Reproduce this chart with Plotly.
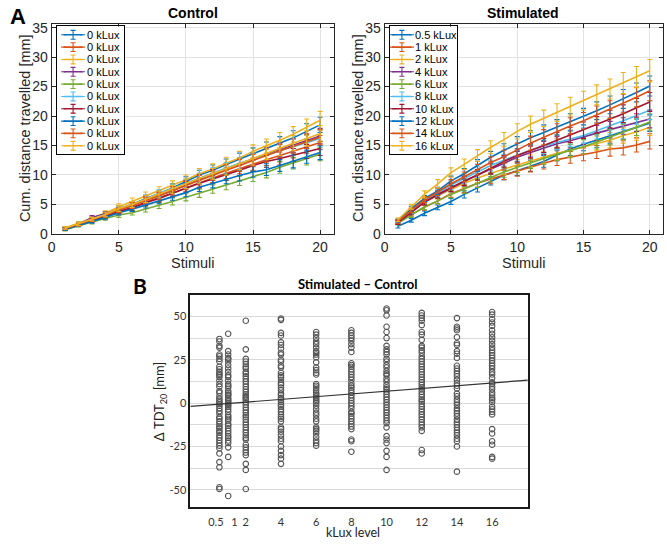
import plotly.graph_objects as go

W, H = 667, 550

# ---------------- data ----------------
stimuli = list(range(1, 21))

control_labels = ["0 kLux"] * 10
control_means = [
    [0.9, 1.7, 2.5, 3.3, 4.3, 5.0, 6.0, 6.8, 7.8, 8.9, 10.0, 10.8, 11.8, 12.7, 13.6, 14.5, 15.4, 16.3, 17.4, 18.5],
    [0.8, 1.5, 2.3, 3.0, 3.8, 4.5, 5.4, 6.1, 6.9, 7.8, 8.7, 9.5, 10.3, 11.1, 11.8, 12.6, 13.3, 14.0, 14.8, 15.5],
    [1.0, 1.8, 2.6, 3.5, 4.6, 5.5, 6.5, 7.3, 8.2, 9.2, 10.2, 11.0, 12.0, 12.9, 14.0, 14.9, 15.9, 16.9, 18.1, 19.3],
    [0.9, 1.6, 2.8, 3.4, 4.1, 4.8, 5.8, 6.5, 7.3, 8.3, 9.3, 10.0, 11.0, 11.9, 12.7, 13.5, 14.3, 15.0, 15.8, 16.6],
    [0.7, 1.4, 2.0, 2.6, 3.2, 3.6, 4.2, 4.8, 5.5, 6.2, 6.9, 7.6, 8.3, 9.0, 9.8, 10.4, 11.3, 12.0, 12.8, 13.5],
    [0.9, 1.7, 2.4, 3.2, 4.1, 4.9, 5.9, 6.9, 7.7, 8.6, 9.5, 10.4, 11.2, 12.0, 12.7, 13.4, 14.1, 14.9, 15.6, 16.2],
    [0.8, 1.5, 2.3, 3.0, 3.8, 4.4, 5.3, 6.0, 6.9, 7.8, 8.6, 9.3, 10.0, 10.8, 11.6, 12.3, 12.8, 13.4, 14.0, 14.5],
    [0.8, 1.4, 2.1, 2.8, 3.6, 4.2, 4.9, 5.6, 6.3, 7.0, 7.9, 8.6, 9.3, 9.9, 10.5, 10.9, 11.6, 12.3, 13.1, 13.8],
    [0.9, 1.6, 2.4, 3.2, 4.0, 4.8, 5.7, 6.4, 7.3, 8.2, 9.1, 9.9, 10.8, 11.6, 12.5, 13.3, 14.1, 14.9, 15.7, 16.4],
    [1.0, 1.7, 2.5, 3.3, 4.3, 5.0, 5.9, 6.7, 7.6, 8.5, 9.4, 10.2, 11.0, 11.9, 12.8, 13.7, 14.5, 15.4, 16.2, 17.0],
]
control_errors = [
    [0.2, 0.3, 0.3, 0.4, 0.5, 0.5, 0.6, 0.6, 0.7, 0.8, 0.8, 0.9, 0.9, 1.0, 1.0, 1.1, 1.1, 1.2, 1.3, 1.3],
    [0.2, 0.2, 0.3, 0.4, 0.4, 0.5, 0.5, 0.6, 0.7, 0.7, 0.8, 0.8, 0.9, 0.9, 1.0, 1.0, 1.1, 1.1, 1.2, 1.2],
    [0.2, 0.3, 0.3, 0.4, 0.5, 0.6, 0.6, 0.7, 0.8, 0.8, 0.9, 0.9, 1.0, 1.1, 1.1, 1.2, 1.3, 1.3, 1.4, 1.5],
    [0.2, 0.3, 0.3, 0.4, 0.4, 0.5, 0.6, 0.6, 0.7, 0.7, 0.8, 0.9, 0.9, 1.0, 1.0, 1.1, 1.1, 1.2, 1.2, 1.3],
    [0.2, 0.2, 0.3, 0.3, 0.4, 0.4, 0.5, 0.5, 0.6, 0.6, 0.7, 0.7, 0.8, 0.8, 0.9, 0.9, 1.0, 1.0, 1.1, 1.1],
    [0.2, 0.3, 0.3, 0.4, 0.4, 0.5, 0.6, 0.6, 0.7, 0.7, 0.8, 0.8, 0.9, 1.0, 1.0, 1.1, 1.1, 1.2, 1.2, 1.3],
    [0.2, 0.2, 0.3, 0.3, 0.4, 0.5, 0.5, 0.6, 0.6, 0.7, 0.8, 0.8, 0.9, 0.9, 1.0, 1.0, 1.1, 1.1, 1.2, 1.2],
    [0.2, 0.2, 0.3, 0.3, 0.4, 0.4, 0.5, 0.5, 0.6, 0.7, 0.7, 0.8, 0.8, 0.9, 0.9, 1.0, 1.0, 1.1, 1.1, 1.2],
    [0.2, 0.3, 0.3, 0.4, 0.4, 0.5, 0.5, 0.6, 0.7, 0.7, 0.8, 0.8, 0.9, 1.0, 1.0, 1.1, 1.1, 1.2, 1.2, 1.3],
    [0.2, 0.3, 0.3, 0.4, 0.5, 0.5, 0.6, 0.6, 0.7, 0.8, 0.8, 0.9, 1.0, 1.0, 1.1, 1.1, 1.2, 1.3, 1.3, 1.4],
]

stim_labels = ["0.5 kLux", "1 kLux", "2 kLux", "4 kLux", "6 kLux",
               "8 kLux", "10 kLux", "12 kLux", "14 kLux", "16 kLux"]
stim_means = [
    [1.3, 2.3, 3.5, 4.5, 5.5, 6.7, 7.8, 9.0, 10.0, 10.7, 11.5, 12.3, 13.4, 14.4, 15.2, 15.9, 16.6, 17.4, 18.1, 18.8],
    [2.0, 3.3, 4.5, 5.6, 6.8, 7.7, 8.6, 9.3, 10.0, 10.7, 11.4, 12.0, 12.6, 13.0, 13.5, 13.9, 14.4, 14.6, 15.1, 15.7],
    [2.2, 3.9, 5.4, 6.5, 7.6, 8.6, 9.5, 10.3, 11.0, 11.7, 12.4, 13.0, 13.7, 14.2, 14.8, 15.4, 15.9, 16.7, 17.3, 18.1],
    [2.0, 3.7, 5.4, 6.6, 7.8, 8.9, 10.0, 11.0, 12.0, 13.0, 13.8, 14.6, 15.3, 15.8, 16.5, 17.1, 17.7, 18.3, 18.9, 19.5],
    [1.8, 3.2, 4.6, 5.6, 6.7, 7.6, 8.6, 9.6, 10.5, 11.3, 12.1, 12.8, 13.5, 14.1, 14.8, 15.6, 16.4, 17.3, 18.1, 19.0],
    [2.0, 3.8, 5.6, 6.9, 8.3, 9.4, 10.5, 11.6, 12.5, 13.4, 14.2, 14.9, 15.5, 16.1, 16.7, 17.5, 18.3, 19.2, 20.1, 21.0],
    [1.9, 3.6, 5.4, 6.7, 7.9, 9.0, 10.0, 11.2, 12.3, 13.3, 14.1, 15.0, 15.9, 16.8, 17.6, 18.5, 19.5, 20.4, 21.4, 22.4],
    [2.2, 4.3, 6.0, 7.3, 9.0, 10.2, 11.6, 13.0, 14.2, 15.3, 16.3, 17.2, 18.1, 19.0, 19.9, 20.9, 21.9, 22.9, 24.0, 25.1],
    [2.1, 4.0, 5.8, 7.1, 8.5, 9.7, 10.9, 12.1, 13.1, 14.3, 15.4, 16.4, 17.4, 18.3, 19.2, 20.2, 21.1, 22.1, 23.2, 24.3],
    [2.4, 4.6, 6.7, 8.5, 10.4, 11.8, 13.3, 14.7, 16.0, 17.4, 18.6, 19.6, 20.6, 21.6, 22.6, 23.6, 24.6, 25.6, 26.6, 27.7],
]
stim_errors = [
    [0.3, 0.3, 0.4, 0.4, 0.5, 0.6, 0.7, 0.7, 0.8, 0.8, 0.9, 1.0, 1.0, 1.1, 1.1, 1.2, 1.3, 1.3, 1.4, 1.4],
    [0.3, 0.4, 0.5, 0.5, 0.6, 0.7, 0.7, 0.8, 0.8, 0.9, 0.9, 1.0, 1.0, 1.0, 1.1, 1.1, 1.2, 1.2, 1.2, 1.3],
    [0.3, 0.4, 0.5, 0.6, 0.7, 0.7, 0.8, 0.8, 0.9, 0.9, 1.0, 1.0, 1.1, 1.1, 1.2, 1.2, 1.3, 1.3, 1.4, 1.4],
    [0.3, 0.4, 0.5, 0.6, 0.7, 0.8, 0.8, 0.9, 1.0, 1.0, 1.1, 1.1, 1.2, 1.2, 1.3, 1.3, 1.4, 1.4, 1.5, 1.5],
    [0.3, 0.4, 0.5, 0.5, 0.6, 0.7, 0.7, 0.8, 0.9, 0.9, 1.0, 1.0, 1.1, 1.1, 1.2, 1.2, 1.3, 1.3, 1.4, 1.4],
    [0.3, 0.4, 0.5, 0.6, 0.7, 0.8, 0.9, 0.9, 1.0, 1.1, 1.1, 1.2, 1.2, 1.3, 1.3, 1.4, 1.4, 1.5, 1.5, 1.6],
    [0.3, 0.4, 0.5, 0.6, 0.7, 0.8, 0.9, 1.0, 1.0, 1.1, 1.2, 1.2, 1.3, 1.3, 1.4, 1.4, 1.5, 1.5, 1.6, 1.6],
    [0.3, 0.4, 0.5, 0.6, 0.8, 0.9, 1.0, 1.0, 1.1, 1.2, 1.2, 1.3, 1.3, 1.4, 1.4, 1.5, 1.5, 1.6, 1.6, 1.7],
    [0.3, 0.4, 0.5, 0.6, 0.7, 0.8, 0.9, 1.0, 1.1, 1.1, 1.2, 1.3, 1.3, 1.4, 1.4, 1.5, 1.5, 1.6, 1.7, 1.7],
    [0.3, 0.4, 0.6, 0.7, 0.8, 0.9, 1.0, 1.1, 1.2, 1.3, 1.4, 1.4, 1.5, 1.6, 1.6, 1.7, 1.7, 1.8, 1.8, 1.9],
]

klux_levels = [0.5, 1, 2, 4, 6, 8, 10, 12, 14, 16]
klux_ticktext = ["0.5", "1", "2", "4", "6", "8", "10", "12", "14", "16"]
# where the tick labels sit in the reference ("0.5" and "1" are spread apart)
klux_label_pos = [0.3, 1.35, 2, 4, 6, 8, 10, 12, 14, 16]
delta_ticks = [-50, -25, 0, 25, 50]
delta_ticktext = ["-50", "-25", "0", "25", "50"]
delta_tdt = [
    [37, 35.5, 33, 32, 28, 27, 25.5, 24, 21, 19.5, 18, 17, 16, 15, 13, 11, 9.5, 7, 6, 4, 2.5, 1.5, 0.5, -0.5,
     -1.5, -3, -4.5, -6, -8, -9, -10.5, -12, -13.5, -14.5, -16, -17, -18.5, -20, -21.5, -23, -24.5, -26,
     -29, -34, -37, -48.5, -49.5],
    [40, 30, 28, 26, 25.5, 24, 22, 20, 18, 16, 15, 13, 11, 10, 9, 7, 6, 5, 4.5, 3, 2, 1, 0, -1, -2, -3.5,
     -5, -7, -8, -9, -10, -12, -13, -14.5, -16, -17.5, -19, -20, -21.5, -23, -25.5, -31, -53.5],
    [47.5, 31, 25.5, 24, 22.5, 21, 20, 18, 17, 15.5, 14, 12.5, 11, 9.5, 8, 6.5, 5, 4, 3, 2, 0.5, -1, -2.5,
     -4, -5.5, -7, -8, -9.5, -11, -12.5, -14, -15.5, -17, -18.5, -20, -21, -24, -25.5, -27, -28.5, -30,
     -35, -38.5, -49.5],
    [48.8, 48, 40.5, 39, 35, 33.5, 31.5, 29, 28, 25, 24, 21.5, 20.5, 17.5, 16, 15, 13.5, 11.5, 10.5, 9, 7.5,
     5.5, 4.5, 3, 2, 0.5, -1, -2, -3.5, -5, -6.5, -8, -9, -10.5, -14, -15, -16.5, -18.5, -20.5, -22, -25,
     -27.5, -30, -32, -35],
    [41, 39.5, 37.5, 35.5, 34, 32, 30, 29, 28, 26.5, 23.5, 20.5, 19, 17.5, 16.5, 11, 10, 9, 7.5, 6, 5, 4, 3,
     2, 1, 0, -1.5, -3.5, -5.5, -7, -9, -10.5, -14, -15, -16, -17.5, -19.5, -21.5, -23, -24.5],
    [42, 40.5, 39, 37.5, 36, 34, 32, 29.5, 23, 22, 21, 19.5, 18, 16.5, 15, 13.5, 11.5, 10, 9, 7.5, 6, 4.5,
     3, 1.5, 0, -1.5, -3, -5, -6, -7.5, -9, -10.5, -12, -13.5, -15, -21, -22, -28],
    [54.5, 53.5, 50.5, 44, 41, 37.5, 33, 31, 29.5, 28, 25.5, 24, 22, 20.5, 18.5, 17, 16, 14, 12.5, 10.5, 9,
     8, 6.5, 5, 3.5, 2, 0.5, -1, -2.5, -4, -5.5, -7, -8.5, -10, -11.5, -14, -19, -21, -23, -27.5, -31,
     -38.5],
    [52, 50.5, 49, 47.5, 45, 41, 39.5, 36.5, 33, 32, 30.5, 29, 27, 25.5, 24, 22.5, 21, 19.5, 18, 16.5, 15,
     13.5, 12, 10.5, 9, 8, 6.5, 5, 3.5, 2, 1, -0.5, -2, -3.5, -5, -6.5, -8, -9.5, -11, -12.5, -14, -16,
     -27, -29],
    [49, 44, 43, 42, 38, 34.5, 33.5, 30, 28.5, 26, 21.5, 20, 18.5, 17, 15.5, 13.5, 11.5, 10, 8.5, 5.5, 4, 2,
     0.5, -1, -3, -4.5, -6, -7.5, -9.5, -11, -12.5, -14, -15.5, -17, -18.5, -20.5, -22, -25, -39.5],
    [52.5, 51, 48.5, 46.5, 44.5, 42, 40, 38, 36, 34, 32, 30.5, 29, 27.5, 26, 24.5, 23, 21.5, 20, 18, 16.5,
     14.5, 12, 11, 9.5, 8, 6, 4.5, 3, 2, 0.5, -2, -3.5, -5, -6.5, -15, -17.5, -22, -24, -31, -32],
]
fit_intercept = -1.0
fit_slope = 0.79

# ---------------- styling ----------------
colors = ["#0072BD", "#D95319", "#EDB120", "#7E2F8E", "#77AC30",
          "#4DBEEE", "#A2142F", "#0072BD", "#D95319", "#EDB120"]
SANS = "Liberation Sans, Arial, sans-serif"
CAL = "Lato, Open Sans, sans-serif"

def px_x(p):
    return p / W

def px_y(p):
    return 1 - p / H

fig = go.Figure()

# Panel A: curves with error bars
for panel, (means, errs) in enumerate([(control_means, control_errors), (stim_means, stim_errors)]):
    xa = "x" if panel == 0 else "x2"
    ya = "y" if panel == 0 else "y2"
    for i in range(10):
        fig.add_trace(go.Scatter(
            x=stimuli, y=means[i], mode="lines",
            line=dict(color=colors[i], width=1.6),
            error_y=dict(type="data", array=errs[i], color=colors[i], thickness=1.1, width=2.5),
            xaxis=xa, yaxis=ya, showlegend=False, hoverinfo="skip"))

# Panel B: scatter
for lvl, vals in zip(klux_levels, delta_tdt):
    fig.add_trace(go.Scatter(
        x=[lvl] * len(vals), y=vals, mode="markers",
        marker=dict(symbol="circle-open", size=5.5, color="#555555", line=dict(width=1.1)),
        xaxis="x3", yaxis="y3", showlegend=False, hoverinfo="skip"))

xb_range = [-1.15, 18.03]
fig.add_trace(go.Scatter(
    x=xb_range, y=[fit_intercept + fit_slope * v for v in xb_range], mode="lines",
    line=dict(color="#333333", width=1.2), xaxis="x3", yaxis="y3",
    showlegend=False, hoverinfo="skip"))

# Custom legends (MATLAB-like compact boxes)
leg_specs = [
    dict(xa="x4", ya="y4", labels=control_labels, line=(7, 26), mid=16.5, tx=28.5),
    dict(xa="x5", ya="y5", labels=stim_labels, line=(2.5, 22), mid=12.3, tx=23.5),
]
annotations = []
for spec in leg_specs:
    for i, lab in enumerate(spec["labels"]):
        yc = 8.5 + 12.6 * i
        fig.add_trace(go.Scatter(
            x=[spec["line"][0], spec["mid"], spec["line"][1]], y=[yc, yc, yc], mode="lines",
            line=dict(color=colors[i], width=1.6),
            error_y=dict(type="data", array=[0, 4.5, 0], color=colors[i], thickness=1.1, width=2.5),
            xaxis=spec["xa"], yaxis=spec["ya"], showlegend=False, hoverinfo="skip"))
        annotations.append(dict(
            x=spec["tx"], y=yc, xref=spec["xa"], yref=spec["ya"], text=lab, showarrow=False,
            xanchor="left", yanchor="middle", font=dict(family=SANS, size=11, color="#000")))

axis_common = dict(
    showline=True, linecolor="#262626", linewidth=1, mirror="ticks",
    ticks="inside", ticklen=4, tickcolor="#262626", tickwidth=1,
    showgrid=True, gridcolor="#e3e3e3", gridwidth=1, zeroline=False,
    tickfont=dict(family=SANS, size=14, color="#262626"))

xA = dict(axis_common, range=[0, 21], tickvals=[0, 5, 10, 15, 20])
yA = dict(axis_common, range=[0, 35.7], tickvals=[0, 5, 10, 15, 20, 25, 30, 35])

legend_axis = dict(showline=True, linecolor="#000", linewidth=1, mirror=True,
                   showgrid=False, zeroline=False, showticklabels=False, ticks="",
                   fixedrange=True)

fig.update_layout(
    width=W, height=H, margin=dict(l=0, r=0, t=0, b=0),
    paper_bgcolor="white", plot_bgcolor="white",
    xaxis=dict(xA, domain=[px_x(48), px_x(331.5)], anchor="y"),
    yaxis=dict(yA, domain=[px_y(235), px_y(20)], anchor="x"),
    xaxis2=dict(xA, domain=[px_x(383), px_x(663)], anchor="y2"),
    yaxis2=dict(yA, domain=[px_y(235), px_y(20)], anchor="x2"),
    xaxis3=dict(domain=[px_x(187.5), px_x(527)], anchor="y3", range=xb_range,
                tickvals=klux_label_pos, ticktext=klux_ticktext, tickangle=0,
                showgrid=False, zeroline=False, ticklabelstandoff=4,
                showline=True, mirror=True, linecolor="#1a1a1a", linewidth=1.6, ticks="",
                tickfont=dict(family=CAL, size=11, color="#333")),
    yaxis3=dict(domain=[px_y(514), px_y(297)], anchor="x3", range=[-59.75, 62.6],
                tickvals=delta_ticks, ticktext=delta_ticktext,
                showgrid=True, gridcolor="#d9d9d9", gridwidth=1, zeroline=False,
                minor=dict(tick0=0, dtick=12.5, showgrid=True, gridcolor="#d9d9d9",
                           gridwidth=1, ticks=""),
                showline=True, mirror=True, linecolor="#1a1a1a", linewidth=1.6, ticks="",
                tickfont=dict(family=CAL, size=11, color="#333")),
    xaxis4=dict(legend_axis, domain=[px_x(53), px_x(121)], anchor="y4", range=[0, 68]),
    yaxis4=dict(legend_axis, domain=[px_y(153), px_y(23)], anchor="x4", range=[130, 0]),
    xaxis5=dict(legend_axis, domain=[px_x(388), px_x(456)], anchor="y5", range=[0, 68]),
    yaxis5=dict(legend_axis, domain=[px_y(153), px_y(23)], anchor="x5", range=[130, 0]),
)

def ann(x, y, text, size, family=SANS, bold=False, angle=0, color="#000", yanchor="middle"):
    t = f"<b>{text}</b>" if bold else text
    annotations.append(dict(x=px_x(x), y=px_y(y), xref="paper", yref="paper", text=t,
                            showarrow=False, xanchor="center", yanchor=yanchor, textangle=angle,
                            font=dict(family=family, size=size, color=color)))

ann(14, 13, "A", 22, bold=True)
ann(190, 9, "Control", 14, bold=True)
ann(522, 9, "Stimulated", 14, bold=True)
ann(190, 265, "Stimuli", 14.5, color="#262626")
ann(523, 265, "Stimuli", 14.5, color="#262626")
ann(21, 127, "Cum. distance travelled [mm]", 14.5, angle=-90, color="#262626")
ann(356, 127, "Cum. distance travelled [mm]", 14.5, angle=-90, color="#262626")
ann(137, 288, "B", 21, family=CAL, bold=True)
ann(356, 286, "Stimulated \u2013 Control", 13, family=CAL, bold=True)
ann(351, 550, "kLux level", 12.5, family=CAL, color="#222", yanchor="bottom")
ann(157, 407, "\u0394 TDT<sub>20</sub> [mm]", 13, family=CAL, angle=-90, color="#222")

fig.update_layout(annotations=annotations)

fig.write_html("out.html", config={"displayModeBar": False},
               post_script="document.body.style.margin='0';document.body.style.overflow='hidden';")
